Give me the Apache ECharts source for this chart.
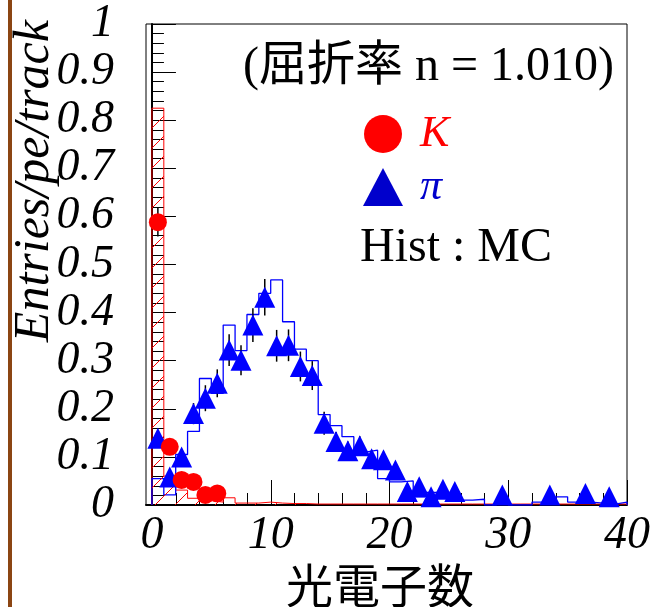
<!DOCTYPE html>
<html><head><meta charset="utf-8">
<script src="https://cdn.jsdelivr.net/npm/echarts@6/dist/echarts.min.js"></script>
<style>html,body{margin:0;padding:0;background:#fff}#c{width:654px;height:607px}</style>
</head><body><div id="c"></div>
<script>
// ---- data ----
const binLeft = [0,1,2,3,4,5,6,7,8,9,10,11,12,13,14,15,16,17,18,19,20,21,22,23,24,25,26,27,28,29,30,31,32,33,34,35,36,37,38,39];
const binWidth = 1;
// MC histogram for K (red, hatched)
const kHist = [0.825,0.060,0.031,0.014,0.009,0.006,0.015,0.004,0.004,0.006,0.004,0.003,0.003,0.002,0.002,0.002,0.002,0.002,0.002,0.002,
               0.002,0.002,0.002,0.002,0.002,0.002,0.002,0.002,0.002,0.002,0.002,0.002,0.002,0.002,0.002,0.002,0.002,0.002,0.002,0.002];
// MC histogram for pi (blue outline)
const piHist = [0.055,0.021,0.105,0.153,0.263,0.232,0.374,0.321,0.396,0.440,0.468,0.381,0.324,0.300,0.188,0.165,0.142,0.110,0.114,0.055,
                0.048,0.050,0.017,0.026,0.024,0.010,0.010,0.012,0.000,0.005,0.000,0.000,0.006,0.004,0.017,0.006,0.006,0.004,0.002,0.006];
// measured points, K (red circles)
const kX   = [0.5,1.5,2.5,3.5,4.5,5.5];
const kY   = [0.588,0.121,0.052,0.048,0.021,0.024];
const kErr = [0.030,0.015,0.010,0.010,0.007,0.007];
// measured points, pi (blue triangles)
const piX   = [0.5,1.5,2.5,3.5,4.5,5.5,6.5,7.5,8.5,9.5,10.5,11.5,12.5,13.5,14.5,15.5,16.5,17.5,18.5,19.5,20.5,21.5,22.5,23.5,24.5,25.5,29.5,33.5,36.5,38.5];
const piY   = [0.139,0.058,0.100,0.190,0.222,0.253,0.322,0.301,0.374,0.432,0.331,0.332,0.288,0.269,0.170,0.132,0.113,0.123,0.096,0.094,0.073,0.028,0.038,0.017,0.033,0.028,0.021,0.021,0.024,0.017];
const piErr = [0.015,0.012,0.016,0.022,0.027,0.029,0.033,0.031,0.035,0.038,0.033,0.033,0.031,0.030,0.024,0.020,0.019,0.020,0.018,0.017,0.015,0.010,0.011,0.009,0.011,0.010,0.010,0.010,0.010,0.009];
const xTickMin = 0, xTickMax = 40, xTickStep = 10;
const yTickMin = 0, yTickMax = 1, yTickStep = 0.1;

// ---- layout ----
const G = {left:146, top:24, w:481, h:481};
const xMin = -0.5, xMax = 40, yMin = 0, yMax = 1;

// ---- build ----
function stepData(h){
  const d = [[binLeft[0],0]];
  for (let i=0;i<h.length;i++) d.push([binLeft[i],h[i]]);
  const last = binLeft[binLeft.length-1]+binWidth;
  d.push([last,h[h.length-1]]);
  d.push([last,0]);
  return d;
}
function errData(xs,ys,es){ return xs.map((x,i)=>[x,ys[i]-es[i],ys[i]+es[i]]); }

// hatch segments ("/" every 20 px) inside each K MC bin, in data units: [x1,y1,x2,y2]
const HATCH = 20;
const kx = G.w/(xMax-xMin), ky = G.h/(yMax-yMin);
const toPx = X => G.left + (X-xMin)*kx, toPy = Y => G.top + G.h - (Y-yMin)*ky;
const fromPx = p => xMin + (p-G.left)/kx, fromPy = p => yMin + (G.top+G.h-p)/ky;
function hatchSegs(h){
  const out = [];
  for (let i=0;i<h.length;i++){
    const x0=toPx(binLeft[i]), x1=toPx(binLeft[i]+binWidth), yBot=toPy(0), yTop=toPy(h[i]);
    if (yBot-yTop < 1) continue;
    const cStart = Math.ceil((x0+yTop)/HATCH)*HATCH;
    for (let c=cStart; c<=x1+yBot; c+=HATCH){
      const xs=Math.max(x0, c-yBot), xe=Math.min(x1, c-yTop);
      if (xe-xs>0.3) out.push([fromPx(xs), fromPy(c-xs), fromPx(xe), fromPy(c-xe)]);
    }
  }
  return out;
}
const kHatch = hatchSegs(kHist);

const serif = '"Liberation Serif","Times New Roman",serif';
const chart = echarts.init(document.getElementById('c'), null, {renderer:'canvas'});

function errRender(params, api){
  const x=api.value(0), lo=api.value(1), hi=api.value(2);
  const p1=api.coord([x,lo]), p2=api.coord([x,hi]);
  return {type:'line', shape:{x1:p1[0],y1:p1[1],x2:p2[0],y2:p2[1]}, style:{stroke:'#000',lineWidth:1.5}};
}
function segRender(params, api){
  const p1=api.coord([api.value(0),api.value(1)]), p2=api.coord([api.value(2),api.value(3)]);
  return {type:'line', shape:{x1:p1[0],y1:p1[1],x2:p2[0],y2:p2[1]}, style:{stroke:'#ff0000',lineWidth:1}};
}

chart.setOption({
  animation:false,
  grid:[
    {left:G.left, top:G.top, width:G.w, height:G.h, show:true, borderColor:'#000', borderWidth:1, containLabel:false},
    {left:152, top:G.top, width:475, height:G.h, show:false, containLabel:false}
  ],
  xAxis:[
    {gridIndex:0, type:'value', min:xMin, max:xMax, axisLine:{show:true, lineStyle:{color:'#000',width:2}},
     axisTick:{show:false}, axisLabel:{show:false}, splitLine:{show:false}},
    {gridIndex:1, type:'value', min:xTickMin, max:xTickMax, interval:xTickStep,
     axisLine:{show:false}, axisTick:{show:true, inside:true, length:25, lineStyle:{color:'#000',width:1}},
     minorTick:{show:true, splitNumber:5, length:12, lineStyle:{color:'#000',width:1}},
     axisLabel:{show:true, margin:8, color:'#000', fontFamily:serif, fontStyle:'italic', fontSize:46},
     splitLine:{show:false}}
  ],
  yAxis:[
    {gridIndex:0, type:'value', min:yTickMin, max:yTickMax, interval:yTickStep,
     axisLine:{show:true, lineStyle:{color:'#000',width:2}},
     axisTick:{show:true, inside:true, length:24, lineStyle:{color:'#000',width:1}},
     minorTick:{show:true, splitNumber:5, length:12, lineStyle:{color:'#000',width:1}},
     axisLabel:{show:true, margin:32, color:'#000', fontFamily:serif, fontStyle:'italic', fontSize:46,
       formatter:v=>String(Math.round(v*10)/10)},
     splitLine:{show:false}},
    {gridIndex:1, type:'value', min:0, max:1, show:false}
  ],
  legend:{
    orient:'vertical', left:363, top:112, padding:0, itemWidth:40, itemHeight:38, itemGap:9, selectedMode:false,
    textStyle:{fontFamily:serif, fontStyle:'italic', fontSize:44, padding:[0,0,0,12]},
    data:[
      {name:'K', icon:'circle', itemStyle:{color:'#ff0000'}, textStyle:{color:'#ff0000'}},
      {name:'π', icon:'triangle', itemStyle:{color:'#0000cc'}, textStyle:{color:'#0000cc'}}
    ]
  },
  series:[
    {name:'K MC', type:'line', step:'end', xAxisIndex:0, yAxisIndex:0, data:stepData(kHist), symbol:'none',
     lineStyle:{color:'#ff0000', width:1}, z:2},
    {name:'π MC', type:'line', step:'end', xAxisIndex:0, yAxisIndex:0, data:stepData(piHist), symbol:'none',
     lineStyle:{color:'#0000ff', width:1.3}, z:3},
    {name:'K err', type:'custom', xAxisIndex:0, yAxisIndex:0, data:errData(kX,kY,kErr), renderItem:errRender, encode:{x:0,y:[1,2]}, z:4},
    {name:'π err', type:'custom', xAxisIndex:0, yAxisIndex:0, data:errData(piX,piY,piErr), renderItem:errRender, encode:{x:0,y:[1,2]}, z:4},
    {name:'K hatch', type:'custom', xAxisIndex:0, yAxisIndex:0, data:kHatch, renderItem:segRender, encode:{x:[0,2],y:[1,3]}, z:4},
    {name:'π', type:'scatter', xAxisIndex:0, yAxisIndex:0, data:piX.map((x,i)=>[x,piY[i]]), symbol:'triangle', symbolSize:21,
     itemStyle:{color:'#0000ff', opacity:1}, z:5},
    {name:'K', type:'scatter', xAxisIndex:0, yAxisIndex:0, data:kX.map((x,i)=>[x,kY[i]]), symbol:'circle', symbolSize:18,
     itemStyle:{color:'#ff0000', opacity:1}, z:6}
  ],
  graphic:[
    {type:'rect', left:8, top:0, shape:{width:4, height:607}, style:{fill:'#8b4513'}, silent:true},
    {type:'text', x:35, y:20, rotation:Math.PI/2,
     style:{text:'Entries/pe/track', fill:'#000', font:'italic 50px '+serif, textAlign:'right', textVerticalAlign:'middle'}},
    {type:'text', x:380, y:585,
     style:{text:'光電子数', fill:'#000', font:'47px "Noto Sans CJK JP",sans-serif', textAlign:'center', textVerticalAlign:'middle'}},
    {type:'text', x:243, y:67,
     style:{text:'(屈折率 n = 1.010)', fill:'#000', font:'48px "Liberation Serif","Noto Sans CJK JP",serif', textAlign:'left', textVerticalAlign:'middle'}},
    {type:'text', x:360, y:248,
     style:{text:'Hist : MC', fill:'#000', font:'48px '+serif, textAlign:'left', textVerticalAlign:'middle'}}
  ]
});
</script></body></html>
